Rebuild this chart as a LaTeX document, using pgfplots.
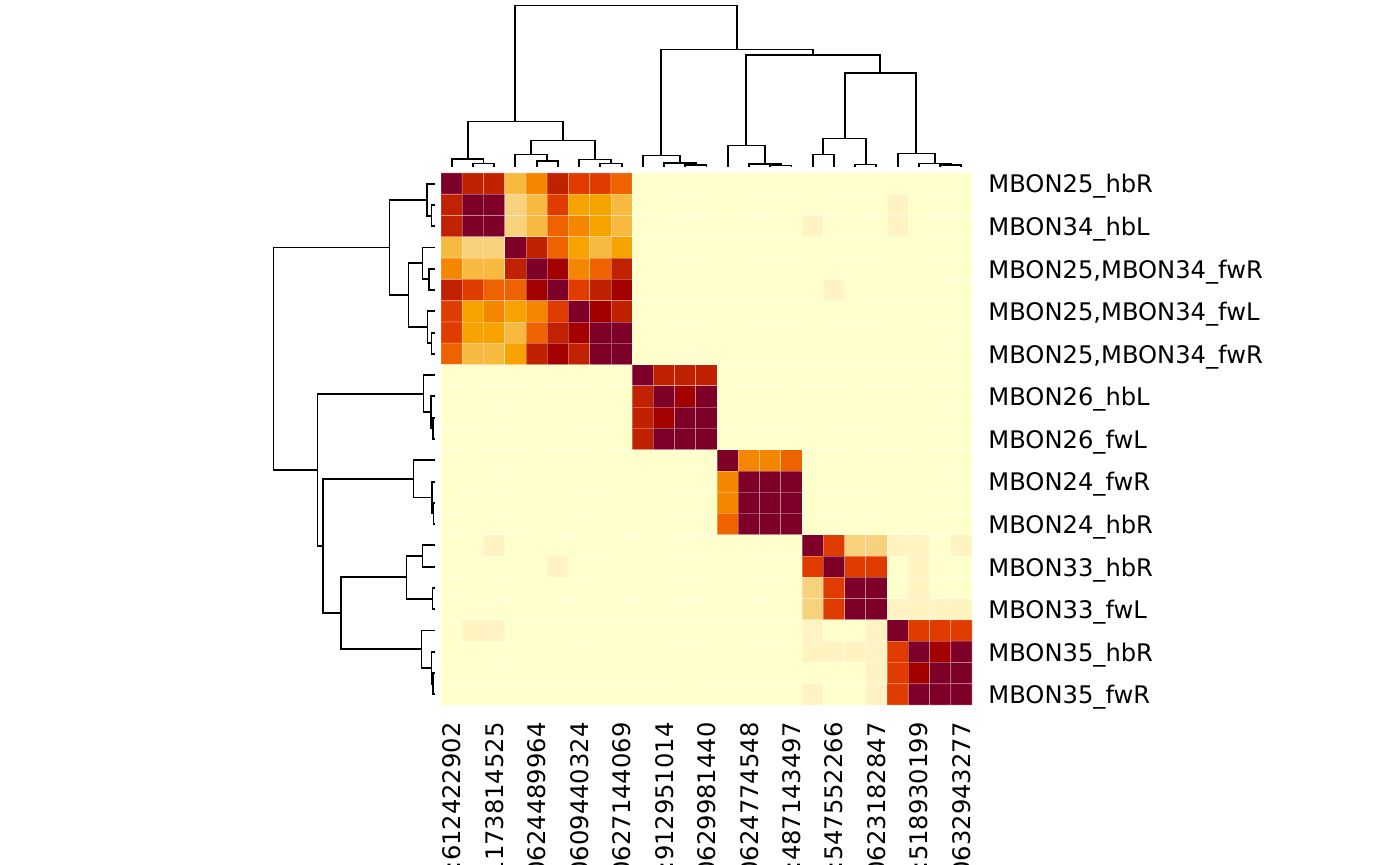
\documentclass[border=0pt]{standalone}
\usepackage{pgfplots}
\pgfplotsset{compat=1.18}
\usepackage{pgfplotstable}
\usepackage{fontspec}
\setmainfont{DejaVu Sans}

\pgfplotstableread{
c h
2 0
2 3.5
3 3.5
3 0
nan nan
1 0
1 8
2.5 8
2.5 3.5
nan nan
5 0
5 6
6 6
6 0
nan nan
4 0
4 12.5
5.5 12.5
5.5 6
nan nan
8 0
8 3.5
9 3.5
9 0
nan nan
7 0
7 7.5
8.5 7.5
8.5 3.5
nan nan
4.75 12.5
4.75 26.5
7.75 26.5
7.75 7.5
nan nan
1.75 8
1.75 45.5
6.25 45.5
6.25 26.5
nan nan
12 0
12 2
13 2
13 0
nan nan
11 0
11 4
12.5 4
12.5 2
nan nan
10 0
10 11.5
11.75 11.5
11.75 4
nan nan
16 0
16 1.5
17 1.5
17 0
nan nan
15 0
15 3
16.5 3
16.5 1.5
nan nan
14 0
14 21.5
15.75 21.5
15.75 3
nan nan
18 0
18 12.5
19 12.5
19 0
nan nan
20 0
20 2.5
21 2.5
21 0
nan nan
18.5 12.5
18.5 28.5
20.5 28.5
20.5 2.5
nan nan
24 0
24 2
25 2
25 0
nan nan
23 0
23 3.5
24.5 3.5
24.5 2
nan nan
22 0
22 13.5
23.75 13.5
23.75 3.5
nan nan
19.5 28.5
19.5 94
22.875 94
22.875 13.5
nan nan
14.875 21.5
14.875 112
21.1875 112
21.1875 94
nan nan
10.875 11.5
10.875 117.5
18.03125 117.5
18.03125 112
nan nan
4 45.5
4 161.5
14.453125 161.5
14.453125 117.5
}\dendro

\pgfplotsset{
  colormap={heat}{
    rgb255=(255,255,204) rgb255=(255,243,193) rgb255=(247,209,124)
    rgb255=(248,185,64) rgb255=(246,163,0) rgb255=(245,134,0)
    rgb255=(238,98,0) rgb255=(224,60,0) rgb255=(192,33,0)
    rgb255=(163,0,0) rgb255=(126,0,40)
  }
}

\begin{document}
\begin{tikzpicture}
\useasboundingbox (0,0) rectangle (700pt,432.5pt);

% top dendrogram
\begin{axis}[at={(220.5pt,349pt)}, anchor=south west, scale only axis,
  width=265.5pt, height=80.75pt, xmin=0.5, xmax=25.5, ymin=0, ymax=161.5,
  hide axis, clip=false]
\addplot[black, line width=0.95pt, unbounded coords=jump] table[x=c,y=h] {\dendro};
\end{axis}

% left dendrogram
\begin{axis}[at={(136.75pt,80pt)}, anchor=south west, scale only axis,
  width=80.75pt, height=266pt, xmin=0, xmax=161.5, x dir=reverse,
  ymin=0.5, ymax=25.5, y dir=reverse, hide axis, clip=false]
\addplot[black, line width=0.95pt, unbounded coords=jump] table[x=h,y=c] {\dendro};
\end{axis}

% heatmap
\begin{axis}[at={(220.5pt,80pt)}, anchor=south west, scale only axis,
  width=265.5pt, height=266pt, xmin=0.5, xmax=25.5, ymin=0.5, ymax=25.5,
  y dir=reverse, enlargelimits=false,
  colormap name=heat, point meta min=0, point meta max=10,
  axis line style={draw=none}, tick style={draw=none}, major tick length=0pt,
  xtick={1,3,...,25}, ytick={1,3,...,25},
  yticklabel pos=right,
  tick label style={font=\fontsize{12.1}{14}\selectfont},
  xticklabel style={rotate=90, anchor=east, inner sep=0pt},
  yticklabel style={anchor=west, inner sep=0pt, yshift=-1.5pt},
  xticklabel shift=8.5pt, yticklabel shift=8pt,
  xticklabels={hb:612422902, hb:1173814525, fw:720575940624489964, fw:720575940609440324,
    fw:720575940627144069, hb:912951014, fw:720575940629981440, fw:720575940624774548,
    hb:487143497, hb:547552266, fw:720575940623182847, hb:518930199, fw:720575940632943277},
  yticklabels={MBON25\_hbR, MBON34\_hbL, {MBON25,MBON34\_fwR}, {MBON25,MBON34\_fwL},
    {MBON25,MBON34\_fwR}, MBON26\_hbL, MBON26\_fwL, MBON24\_fwR, MBON24\_hbR,
    MBON33\_hbR, MBON33\_fwL, MBON35\_hbR, MBON35\_fwR},
]
\addplot[matrix plot*, mesh/cols=25, point meta=explicit,
  draw=white, draw opacity=0.3, line width=0.4pt]
  table[row sep=\\, header=false, x expr={mod(\coordindex,25)+1},
        y expr={round((\coordindex-12)/25)+1}, meta index=0] {
10\\8\\8\\3\\5\\8\\7\\7\\6\\0\\0\\0\\0\\0\\0\\0\\0\\0\\0\\0\\0\\0\\0\\0\\0\\
8\\10\\10\\2\\3\\7\\4\\4\\3\\0\\0\\0\\0\\0\\0\\0\\0\\0\\0\\0\\0\\1\\0\\0\\0\\
8\\10\\10\\2\\3\\6\\5\\4\\3\\0\\0\\0\\0\\0\\0\\0\\0\\1\\0\\0\\0\\1\\0\\0\\0\\
3\\2\\2\\10\\8\\6\\4\\3\\4\\0\\0\\0\\0\\0\\0\\0\\0\\0\\0\\0\\0\\0\\0\\0\\0\\
5\\3\\3\\8\\10\\9\\5\\6\\8\\0\\0\\0\\0\\0\\0\\0\\0\\0\\0\\0\\0\\0\\0\\0\\0\\
8\\7\\6\\6\\9\\10\\7\\8\\9\\0\\0\\0\\0\\0\\0\\0\\0\\0\\1\\0\\0\\0\\0\\0\\0\\
7\\4\\5\\4\\5\\7\\10\\9\\8\\0\\0\\0\\0\\0\\0\\0\\0\\0\\0\\0\\0\\0\\0\\0\\0\\
7\\4\\4\\3\\6\\8\\9\\10\\10\\0\\0\\0\\0\\0\\0\\0\\0\\0\\0\\0\\0\\0\\0\\0\\0\\
6\\3\\3\\4\\8\\9\\8\\10\\10\\0\\0\\0\\0\\0\\0\\0\\0\\0\\0\\0\\0\\0\\0\\0\\0\\
0\\0\\0\\0\\0\\0\\0\\0\\0\\10\\8\\8\\8\\0\\0\\0\\0\\0\\0\\0\\0\\0\\0\\0\\0\\
0\\0\\0\\0\\0\\0\\0\\0\\0\\8\\10\\9\\10\\0\\0\\0\\0\\0\\0\\0\\0\\0\\0\\0\\0\\
0\\0\\0\\0\\0\\0\\0\\0\\0\\8\\9\\10\\10\\0\\0\\0\\0\\0\\0\\0\\0\\0\\0\\0\\0\\
0\\0\\0\\0\\0\\0\\0\\0\\0\\8\\10\\10\\10\\0\\0\\0\\0\\0\\0\\0\\0\\0\\0\\0\\0\\
0\\0\\0\\0\\0\\0\\0\\0\\0\\0\\0\\0\\0\\10\\5\\5\\6\\0\\0\\0\\0\\0\\0\\0\\0\\
0\\0\\0\\0\\0\\0\\0\\0\\0\\0\\0\\0\\0\\5\\10\\10\\10\\0\\0\\0\\0\\0\\0\\0\\0\\
0\\0\\0\\0\\0\\0\\0\\0\\0\\0\\0\\0\\0\\5\\10\\10\\10\\0\\0\\0\\0\\0\\0\\0\\0\\
0\\0\\0\\0\\0\\0\\0\\0\\0\\0\\0\\0\\0\\6\\10\\10\\10\\0\\0\\0\\0\\0\\0\\0\\0\\
0\\0\\1\\0\\0\\0\\0\\0\\0\\0\\0\\0\\0\\0\\0\\0\\0\\10\\7\\2\\2\\1\\1\\0\\1\\
0\\0\\0\\0\\0\\1\\0\\0\\0\\0\\0\\0\\0\\0\\0\\0\\0\\7\\10\\7\\7\\0\\1\\0\\0\\
0\\0\\0\\0\\0\\0\\0\\0\\0\\0\\0\\0\\0\\0\\0\\0\\0\\2\\7\\10\\10\\0\\1\\0\\0\\
0\\0\\0\\0\\0\\0\\0\\0\\0\\0\\0\\0\\0\\0\\0\\0\\0\\2\\7\\10\\10\\1\\1\\1\\1\\
0\\1\\1\\0\\0\\0\\0\\0\\0\\0\\0\\0\\0\\0\\0\\0\\0\\1\\0\\0\\1\\10\\7\\7\\7\\
0\\0\\0\\0\\0\\0\\0\\0\\0\\0\\0\\0\\0\\0\\0\\0\\0\\1\\1\\1\\1\\7\\10\\9\\10\\
0\\0\\0\\0\\0\\0\\0\\0\\0\\0\\0\\0\\0\\0\\0\\0\\0\\0\\0\\0\\1\\7\\9\\10\\10\\
0\\0\\0\\0\\0\\0\\0\\0\\0\\0\\0\\0\\0\\0\\0\\0\\0\\1\\0\\0\\1\\7\\10\\10\\10\\
};
\end{axis}
\end{tikzpicture}
\end{document}
